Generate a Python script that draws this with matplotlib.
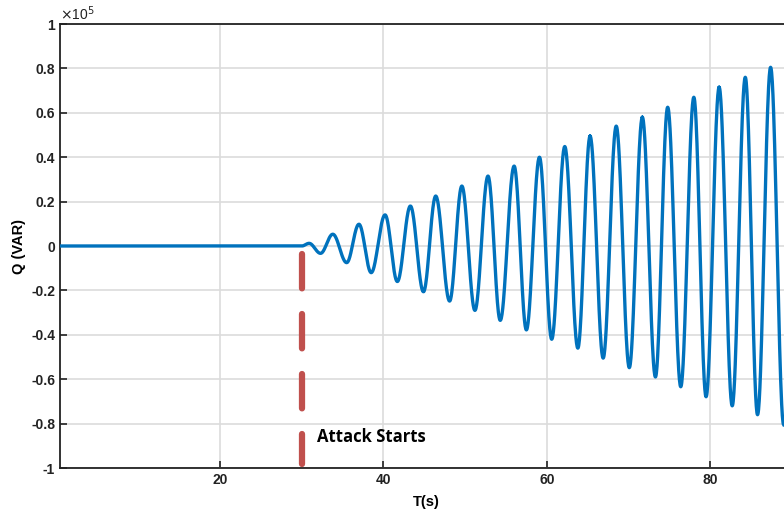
import numpy as np
import matplotlib.pyplot as plt

plt.rcParams['font.family'] = ['Liberation Sans', 'DejaVu Sans']

# extrema of Q (time in s, Q in units of 1e5 VAR)
ext_t = [0.4, 30.0, 30.9, 32.3, 33.8, 35.5, 37.0, 38.5, 40.2, 41.7, 43.3, 44.9,
         46.4, 48.1, 49.6, 51.2, 52.8, 54.3, 56.0, 57.5, 59.1, 60.6, 62.2, 63.8,
         65.3, 66.9, 68.5, 70.1, 71.7, 73.3, 74.8, 76.4, 78.0, 79.5, 81.1, 82.7,
         84.3, 85.8, 87.4, 89.0]
ext_q = [0.0, 0.0, 0.012, -0.033, 0.053, -0.075, 0.098, -0.12, 0.14, -0.16, 0.18, -0.206,
         0.225, -0.248, 0.27, -0.29, 0.315, -0.335, 0.36, -0.378, 0.40, -0.42, 0.448, -0.46,
         0.495, -0.505, 0.54, -0.548, 0.58, -0.59, 0.625, -0.634, 0.67, -0.679, 0.715, -0.72,
         0.76, -0.76, 0.805, -0.805]

attack_t = 30.0
x_ticks = [20, 40, 60, 80]
y_ticks = [1, 0.8, 0.6, 0.4, 0.2, 0, -0.2, -0.4, -0.6, -0.8, -1]

# smooth half-cosine swing between consecutive extrema
t_all, q_all = [], []
for i in range(len(ext_t) - 1):
    s = np.linspace(0, 1, 40)
    t_all.append(ext_t[i] + (ext_t[i + 1] - ext_t[i]) * s)
    w = (1 - np.cos(np.pi * s)) / 2
    q_all.append(ext_q[i] + (ext_q[i + 1] - ext_q[i]) * w)
t_all = np.concatenate(t_all)
q_all = np.concatenate(q_all)

fig = plt.figure(figsize=(7.84, 5.11), dpi=100)
ax = fig.add_axes([60 / 784, 1 - 468 / 511, 1 - 60 / 784 + 0.01, (468 - 24) / 511])

ax.plot(t_all, q_all, color='#0072BD', lw=2.4, zorder=3)
ax.plot([attack_t, attack_t], [-0.035, -0.98], color='#C0504D', lw=4.5,
        dashes=(5.5, 4.1), solid_capstyle='round', dash_capstyle='round', zorder=4)
ax.text(31.9, -0.86, 'Attack Starts', fontsize=12, fontweight='bold',
        family=['Open Sans', 'DejaVu Sans'], va='center', ha='left')

ax.set_xlim(0.4, 90)
ax.set_ylim(-1, 1)
ax.set_xticks(x_ticks)
ax.set_yticks(y_ticks)
ax.set_yticklabels([('%g' % v) for v in y_ticks])
ax.tick_params(direction='in', length=5, width=1.2, labelsize=10, colors='#222222')
for lab in ax.get_xticklabels() + ax.get_yticklabels():
    lab.set_fontweight('bold')
ax.grid(True, color='#dcdcdc', lw=1.2)
ax.set_axisbelow(True)
for sp in ['left', 'bottom', 'top']:
    ax.spines[sp].set_linewidth(1.3)
    ax.spines[sp].set_color('#222222')
ax.spines['right'].set_visible(False)

ax.text(0.0, 1.003, r'$\times$10$^5$', transform=ax.transAxes, fontsize=10,
        ha='left', va='bottom', color='#222222')
ax.set_xlabel('T(s)', fontsize=10.5, fontweight='bold', labelpad=6)
ax.set_ylabel('Q (VAR)', fontsize=10.5, fontweight='bold', labelpad=4)

fig.savefig('out.png', dpi=100)
